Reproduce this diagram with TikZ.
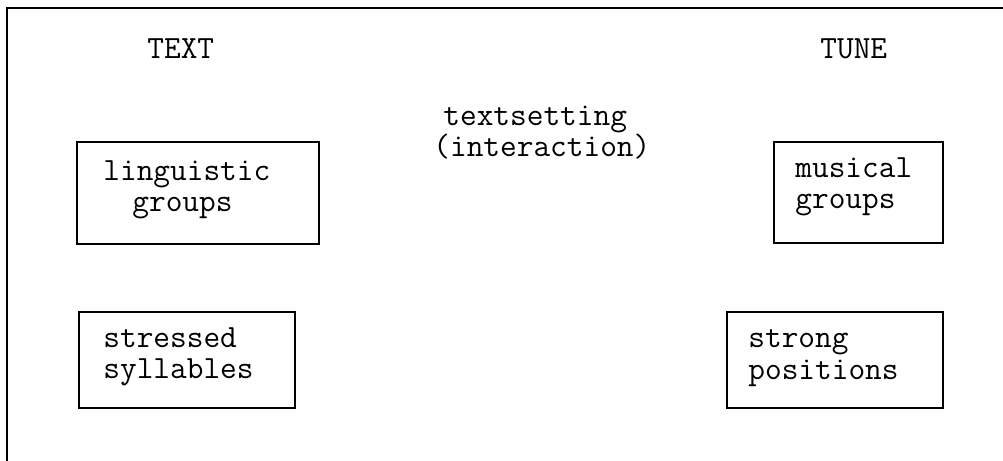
\documentclass[tikz,border=0pt]{standalone}
\usepackage{fontspec}
\begin{document}
\begin{tikzpicture}[x=0.5pt,y=-0.5pt,
  box/.style={draw=black,line width=1pt,inner sep=0pt,minimum width=#1},
  lbl/.style={font=\fontsize{16.2}{15.5}\selectfont\ttfamily,inner sep=0pt,anchor=base west},
  frame/.style={line width=1pt}]
\useasboundingbox (0,0) rectangle (1003,461);
% partial outer frame
\coordinate (ftl) at (7,8);
\coordinate (ftr) at (1003,8);
\coordinate (fbl) at (7,461);
\draw[frame] (ftr) -- (ftl) -- (fbl);
% headings
\node[lbl] (text) at (147,58) {TEXT};
\node[lbl] (tune) at (820,58) {TUNE};
\node[lbl] (ts1) at (443,125) {textsetting};
\node[lbl] (ts2) at (433,156) {(interaction)};
% boxes
\node[box=121pt,minimum height=51pt] (lg) at (198,193) {};
\node[box=108pt,minimum height=48pt] (ss) at (187,360) {};
\node[box=84.5pt,minimum height=50.5pt] (mg) at (858.5,192.5) {};
\node[box=108pt,minimum height=48pt] (sp) at (835,360) {};
% box labels
\node[lbl] (lg1) at (103,180) {linguistic};
\node[lbl] (lg2) at (132,211) {groups};
\node[lbl] (ss1) at (103,347) {stressed};
\node[lbl] (ss2) at (103,378) {syllables};
\node[lbl] (mg1) at (795,177) {musical};
\node[lbl] (mg2) at (795,208) {groups};
\node[lbl] (sp1) at (748,347) {strong};
\node[lbl] (sp2) at (748,379) {positions};
\end{tikzpicture}
\end{document}
